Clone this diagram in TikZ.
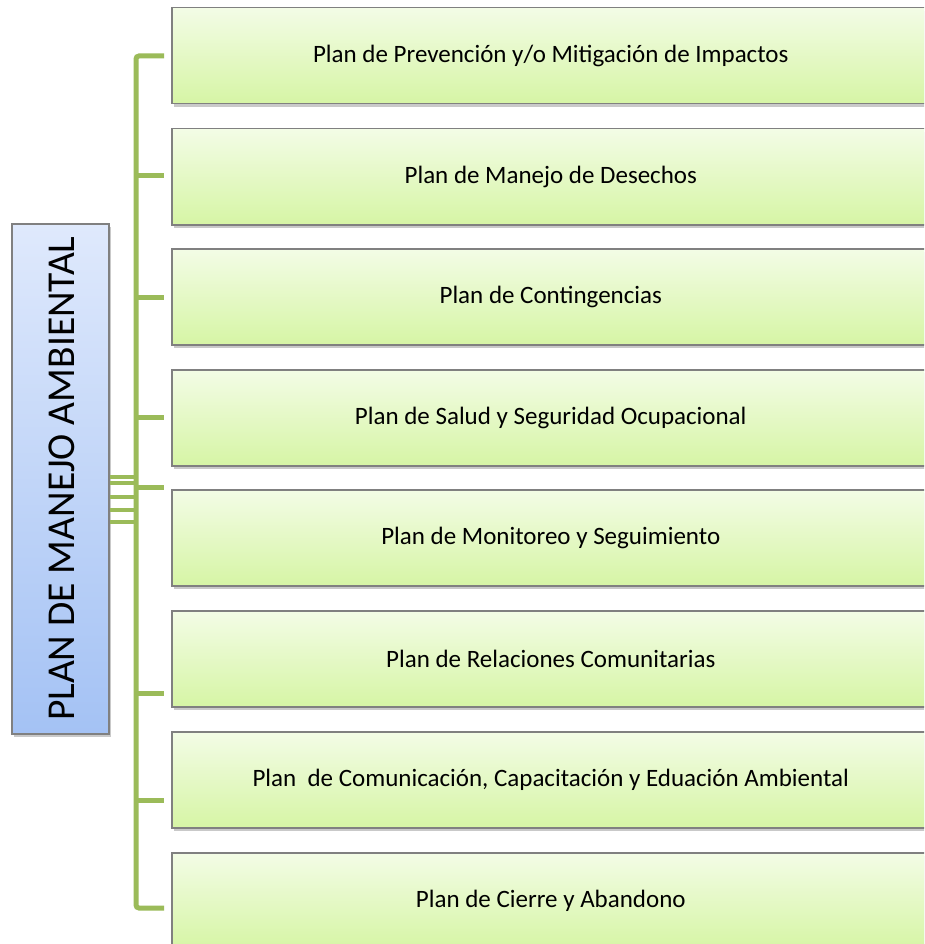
\documentclass[tikz,border=0pt]{standalone}
\usepackage{fontspec}
\setmainfont{Carlito}
\usetikzlibrary{shadows}
\definecolor{lnk}{RGB}{155,187,89}
\definecolor{gtop}{RGB}{243,252,230}
\definecolor{gbot}{RGB}{214,245,165}
\definecolor{btop}{RGB}{223,233,252}
\definecolor{bbot}{RGB}{164,194,244}
\definecolor{bord}{RGB}{128,128,128}
\tikzset{
  planbox/.style={draw=bord, line width=1.5pt, top color=gtop, bottom color=gbot,
    minimum width=758pt, minimum height=96pt, inner sep=0pt, anchor=north west,
    font=\fontsize{25}{28}\selectfont, text=black,
    drop shadow={shadow xshift=2pt, shadow yshift=-3pt, opacity=0.35, fill=black!60}},
  mainbox/.style={draw=bord, line width=1.5pt, top color=btop, bottom color=bbot,
    minimum width=97pt, minimum height=510pt, inner sep=0pt, anchor=north west,
    drop shadow={shadow xshift=2pt, shadow yshift=-3pt, opacity=0.35, fill=black!60}},
  link/.style={draw=lnk, line width=5pt},
}
\begin{document}
\begin{tikzpicture}[x=1pt,y=-1pt]
\useasboundingbox (0,0) rectangle (924,944);
\clip (0,0) rectangle (924,944);
\fill[white] (0,0) rectangle (924,944);
% left box
\node[mainbox] (lb) at (11,223) {};
\node[rotate=90, font=\fontsize{39.5}{44}\selectfont] (lbt) at ([xshift=2pt]lb.center) {PLAN DE MANEJO AMBIENTAL};
% plan boxes
\node[planbox] (b1) at (171,7)   {Plan de Prevención y/o Mitigación de Impactos};
\node[planbox] (b2) at (171,128) {Plan de Manejo de Desechos};
\node[planbox] (b3) at (171,248) {Plan de Contingencias};
\node[planbox] (b4) at (171,369) {Plan de Salud y Seguridad Ocupacional};
\node[planbox] (b5) at (171,489) {Plan de Monitoreo y Seguimiento};
\node[planbox] (b6) at (171,610) {Plan de Relaciones Comunitarias};
\node[planbox] (b7) at (171,731) {Plan\ \ de Comunicación, Capacitación y Eduación Ambiental};
\node[planbox] (b8) at (171,852) {Plan de Cierre y Abandono};
% trunk coordinates
\coordinate (t1) at (136,56);
\coordinate (t2) at (136,176);
\coordinate (t3) at (136,297);
\coordinate (t4) at (136,417);
\coordinate (t5) at (136,487);
\coordinate (t6) at (136,693);
\coordinate (t7) at (136,800);
\coordinate (t8) at (136,908);
\coordinate (e1) at (164,56);
\coordinate (e8) at (164,908);
% trunk
\draw[link, rounded corners=3pt] (e1) -- (t1) -- (t8) -- (e8);
\foreach \i in {2,...,7}{
  \draw[link] (t\i) -- ++(28,0);
}
% lines from main box
\foreach \yy in {477,483,497,510,522}{
  \draw[link, line width=4pt] (lb.east |- 0,\yy) -- (136,\yy);
}
\end{tikzpicture}
\end{document}
